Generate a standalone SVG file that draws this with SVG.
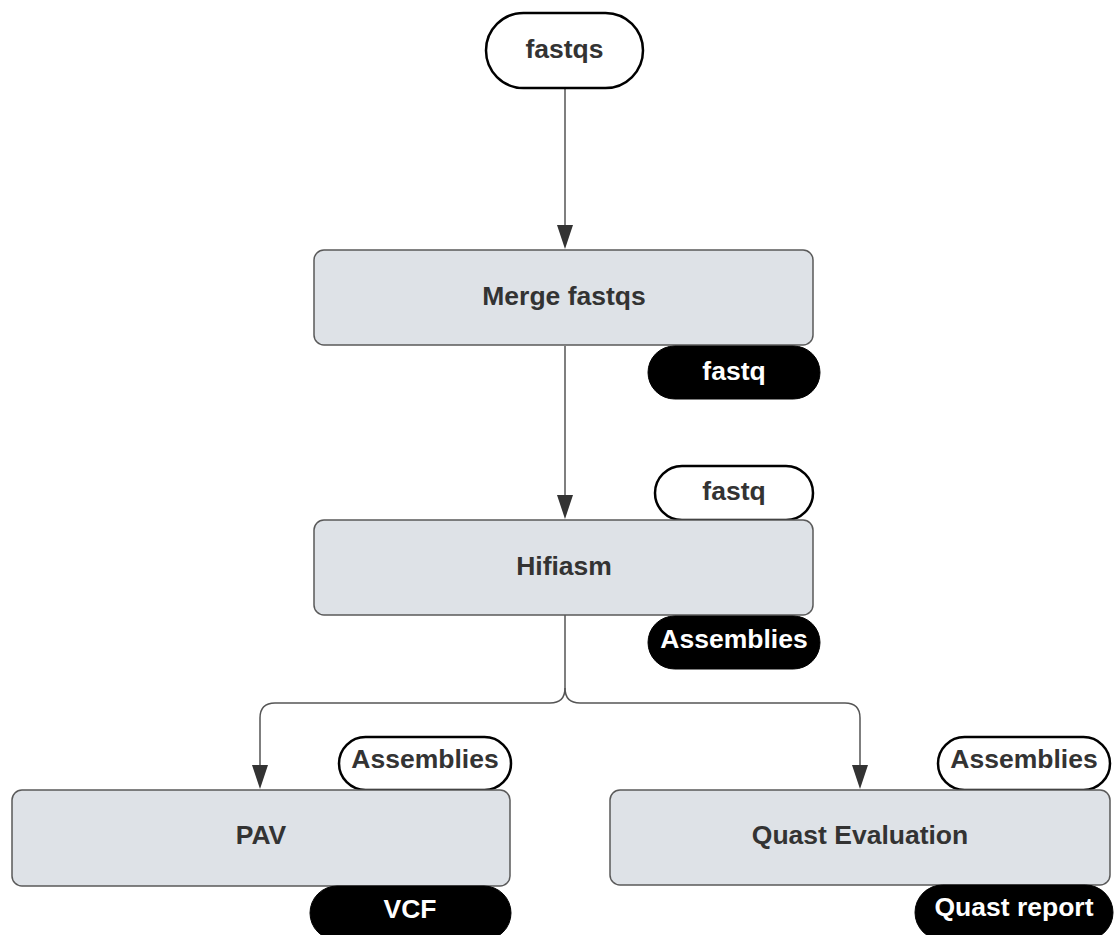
<svg xmlns="http://www.w3.org/2000/svg" width="1115" height="935" viewBox="0 0 1115 935">
<defs>
<style>
.box{fill:#dee2e7;stroke:#5a5a5a;stroke-width:1.5}
.pillw{fill:#ffffff;stroke:#000;stroke-width:2.5}
.pillb{fill:#000;stroke:#000;stroke-width:1}
.t{font-family:"Liberation Sans",Arial,sans-serif;font-weight:bold;font-size:26.5px;text-anchor:middle;dominant-baseline:central;fill:#333}
.tw{fill:#fff}
.conn{fill:none;stroke:#555;stroke-width:1.5}
.ah{fill:#333}
</style>
</defs>
<rect width="1115" height="935" fill="#fff"/>
<g id="connectors">
<path class="conn" d="M565,88 L565,226"/>
<path class="ah" d="M557,225 L573,225 L565,249 Z"/>
<path class="conn" d="M565,346 L565,496"/>
<path class="ah" d="M557,495 L573,495 L565,519 Z"/>
<path class="conn" d="M565,615 L565,688 Q565,703 550,703 L275,703 Q260,703 260,718 L260,766"/>
<path class="ah" d="M252,765 L268,765 L260,789 Z"/>
<path class="conn" d="M565,688 Q565,703 580,703 L845,703 Q860,703 860,718 L860,766"/>
<path class="ah" d="M852,765 L868,765 L860,789 Z"/>
</g>
<g id="fastqs">
<rect class="pillw" x="486" y="13" width="157" height="75" rx="37.5"/>
<text class="t" x="564.5" y="49">fastqs</text>
</g>
<g id="merge">
<rect class="box" x="314" y="250" width="499" height="95" rx="10"/>
<text class="t" x="564" y="296">Merge fastqs</text>
</g>
<g id="merge-out">
<rect class="pillb" x="648" y="346" width="172" height="53" rx="26.5"/>
<text class="t tw" x="734" y="371">fastq</text>
</g>
<g id="hifiasm-in">
<rect class="pillw" x="655" y="466" width="158" height="54" rx="27"/>
<text class="t" x="734" y="491">fastq</text>
</g>
<g id="hifiasm">
<rect class="box" x="314" y="520" width="499" height="95" rx="10"/>
<text class="t" x="564" y="566">Hifiasm</text>
</g>
<g id="hifiasm-out">
<rect class="pillb" x="648" y="616" width="172" height="53" rx="26.5"/>
<text class="t tw" x="734" y="639">Assemblies</text>
</g>
<g id="pav-in">
<rect class="pillw" x="339" y="737" width="172" height="53" rx="26.5"/>
<text class="t" x="425" y="759">Assemblies</text>
</g>
<g id="pav">
<rect class="box" x="12" y="790" width="498" height="96" rx="10"/>
<text class="t" x="261" y="835">PAV</text>
</g>
<g id="pav-out">
<rect class="pillb" x="310" y="886" width="201" height="54" rx="27"/>
<text class="t tw" x="410" y="909">VCF</text>
</g>
<g id="quast-in">
<rect class="pillw" x="938" y="737" width="172" height="53" rx="26.5"/>
<text class="t" x="1024" y="759">Assemblies</text>
</g>
<g id="quast">
<rect class="box" x="610" y="790" width="500" height="95" rx="10"/>
<text class="t" x="860" y="835">Quast Evaluation</text>
</g>
<g id="quast-out">
<rect class="pillb" x="915" y="885" width="198" height="55" rx="27.5"/>
<text class="t tw" x="1014" y="907">Quast report</text>
</g>
</svg>
